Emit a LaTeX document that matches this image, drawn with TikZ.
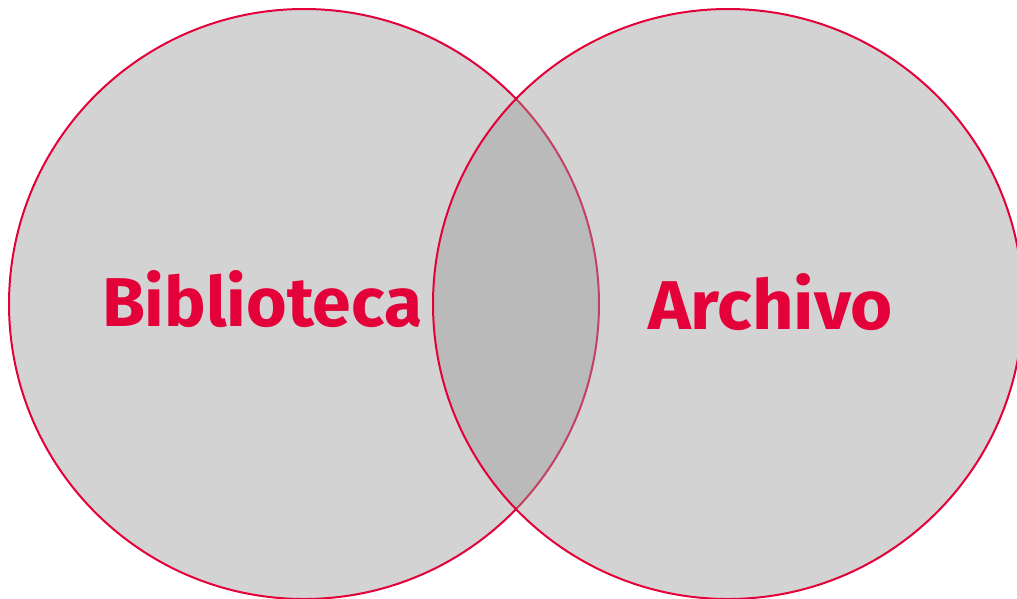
\documentclass[tikz,border=0pt]{standalone}
\usepackage{fontspec}
\setmainfont{Fira Sans}
\definecolor{vennred}{RGB}{228,0,56}
\definecolor{venngray}{RGB}{153,153,153}
\tikzset{
  venncircle/.style={circle, draw=vennred, line width=2pt, fill=venngray, fill opacity=0.43, draw opacity=1, minimum size=590pt, inner sep=0pt, outer sep=0pt},
  vennlabel/.style={inner sep=0pt, outer sep=0pt, text=vennred, anchor=south west}
}
\begin{document}
\begin{tikzpicture}[x=1pt,y=-1pt]
\useasboundingbox (0,0) rectangle (1017,598);
\node[venncircle] (bib) at (304,304) {};
\node[venncircle] (arc) at (728,304) {};
\node[vennlabel] (tbib) at (102,328) {\resizebox{320pt}{56pt}{\bfseries Biblioteca}};
\node[vennlabel] (tarc) at (648,331) {\resizebox{245pt}{56pt}{\bfseries Archivo}};
\end{tikzpicture}
\end{document}
